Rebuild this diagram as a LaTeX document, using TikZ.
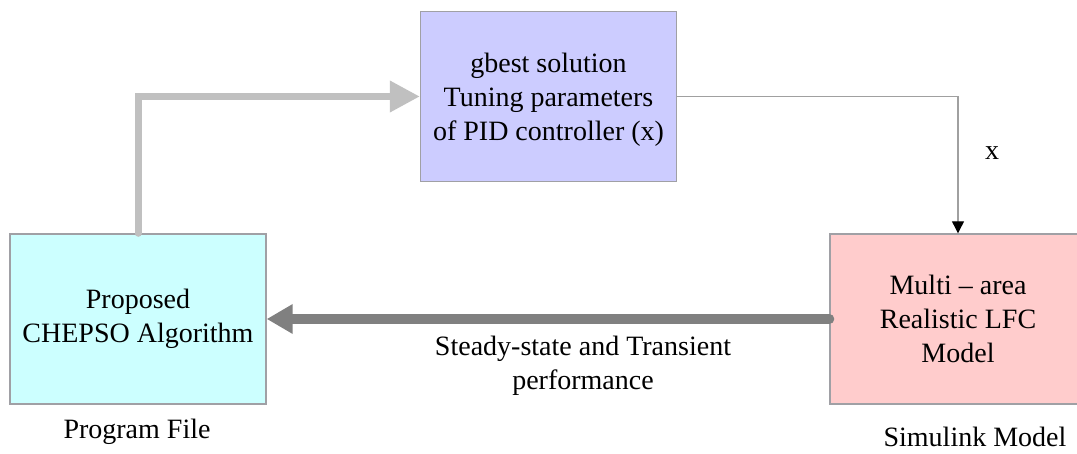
\documentclass[tikz,border=0pt]{standalone}
\usepackage{fontspec}
\setmainfont{Liberation Serif}
\usetikzlibrary{arrows.meta}

\definecolor{gbestfill}{RGB}{204,204,255}
\definecolor{progfill}{RGB}{204,255,255}
\definecolor{lfcfill}{RGB}{255,204,204}
\definecolor{boxline}{RGB}{160,160,165}

\tikzset{
  block/.style={draw=boxline, line width=0.7pt, minimum width=128pt,
    minimum height=85pt, align=center, inner sep=0pt,
    font=\fontsize{14}{17}\selectfont},
  lbl/.style={align=center, font=\fontsize{14}{17}\selectfont},
}

\begin{document}
\begin{tikzpicture}[x=0.5pt,y=-0.5pt]
  \clip (0,0) rectangle (1077,454);

  % Blocks
  \node[block, fill=gbestfill, text depth=0pt] (gbest) at (548.5,96.5)
    {gbest solution\\Tuning parameters\\of PID controller (x)};
  \node[block, fill=progfill] (prog) at (138,319)
    {Proposed\\CHEPSO Algorithm};
  \node[block, fill=lfcfill] (lfc) at (958,319)
    {Multi -- area\\Realistic LFC\\Model};

  % Arrows
  \draw[line width=3.5pt, color={rgb,255:red,192;green,192;blue,192},
    line cap=round, -{Triangle[length=15pt,width=15pt]}]
    (prog.north) |- (gbest.west);
  \draw[line width=0.6pt, color={rgb,255:red,160;green,160;blue,160},
    -{Triangle[length=6pt,width=6pt,black]}]
    (gbest.east) -| (lfc.north);
  \draw[line width=5pt, color={rgb,255:red,128;green,128;blue,128},
    line cap=round, -{Triangle[length=13pt,width=14pt]}]
    (lfc.west) -- (prog.east);

  % Labels
  \node[lbl] (xlbl) at (992,153) {x};
  \node[lbl] (perf) at (583,366) {Steady-state and Transient\\performance};
  \node[lbl] (progfile) at (137,432) {Program File};
  \node[lbl] (simmodel) at (975,437) {Simulink Model};
\end{tikzpicture}
\end{document}
